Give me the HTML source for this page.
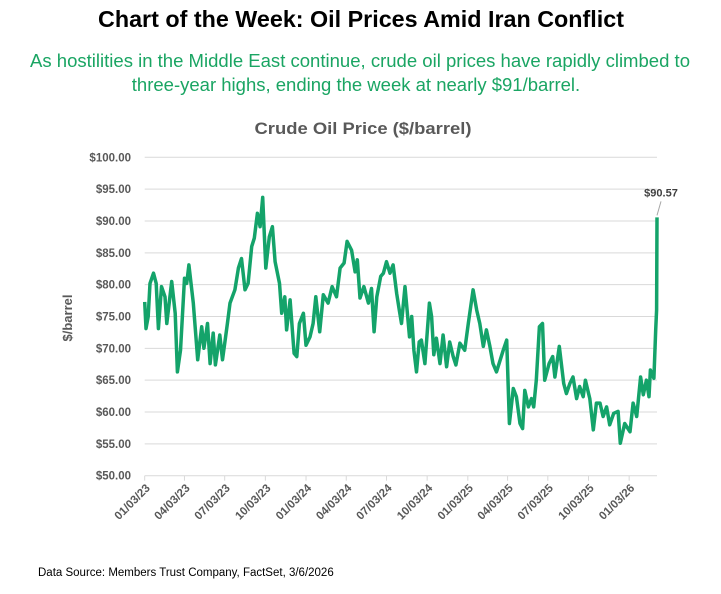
<!DOCTYPE html>
<html><head><meta charset="utf-8"><style>
body{margin:0;background:#fff;width:721px;height:594px;overflow:hidden;font-family:"Liberation Sans",sans-serif}
</style></head><body>
<svg width="721" height="594" style="position:absolute;left:0;top:0">
<text x="361" y="27" text-anchor="middle" font-size="23" font-weight="bold" fill="#000" textLength="526" lengthAdjust="spacingAndGlyphs">Chart of the Week: Oil Prices Amid Iran Conflict</text>
<text x="360" y="67" text-anchor="middle" font-size="18.5" fill="#1aa563" textLength="660" lengthAdjust="spacingAndGlyphs">As hostilities in the Middle East continue, crude oil prices have rapidly climbed to</text>
<text x="356" y="91" text-anchor="middle" font-size="18.5" fill="#1aa563">three-year highs, ending the week at nearly $91/barrel.</text>
<text x="363" y="134" text-anchor="middle" font-size="17" font-weight="bold" fill="#595959" textLength="217" lengthAdjust="spacingAndGlyphs">Crude Oil Price ($/barrel)</text>
<text transform="translate(72,318) rotate(-90)" text-anchor="middle" font-size="13" font-weight="bold" fill="#595959">$/barrel</text>
<text x="38" y="576" font-size="11.5" fill="#000">Data Source: Members Trust Company, FactSet, 3/6/2026</text>
<g id="grid"></g><g id="axes"></g><g id="series"></g>
</svg>
<script>
const yTicks=[50,55,60,65,70,75,80,85,90,95,100];
const xTickLabels=["01/03/23","04/03/23","07/03/23","10/03/23","01/03/24","04/03/24","07/03/24","10/03/24","01/03/25","04/03/25","07/03/25","10/03/25","01/03/26"];
const xTickDays=[0,90,181,273,365,456,547,639,731,821,912,1004,1096];
const days=[0,3,8,12,20,26,31,38,46,50,61,69,74,81,90,95,100,110,120,129,134,142,148,155,160,170,176,187,193,204,212,219,227,234,242,248,255,261,267,274,282,289,295,305,310,317,321,329,338,344,350,359,365,374,381,387,396,404,415,424,434,442,451,458,468,476,481,487,496,506,513,519,525,534,540,547,555,562,570,576,581,589,599,604,609,615,621,626,634,644,649,654,660,668,675,683,690,698,704,713,724,732,743,751,758,766,773,781,788,796,811,819,825,834,841,849,855,860,868,875,880,886,893,900,905,915,923,928,938,948,954,962,969,977,984,992,997,1007,1015,1022,1030,1037,1045,1052,1061,1071,1076,1086,1098,1105,1113,1122,1128,1135,1141,1144,1152,1156,1158,1159];
const prices=[77.3,73.1,75,80.2,81.8,80.2,73.1,79.7,78.1,73.9,80.5,75.5,66.3,69.7,81,80.2,83.1,77.1,68.2,73.4,70,73.9,67.6,72.4,67.4,72.1,68.2,73.9,77.1,79.2,82.6,84.1,79.2,80.2,86,87.3,91.2,89.1,93.7,82.6,87.5,89.1,83.6,80.2,75.5,78.1,72.9,77.6,69.2,68.7,73.9,75.5,70.5,71.8,73.9,78.1,72.6,78.4,77.1,79.7,78.1,82.6,83.4,86.8,85.4,82,83.9,77.9,79.7,77.1,79.4,72.6,78.1,81.3,81.8,83.6,81.8,83.1,78.6,76,73.9,79.7,71.8,75,69.7,66.3,71,71.3,67.6,77.1,75,69,71.6,67.6,72.1,67.1,71,68.7,67.4,70.8,69.7,73.9,79.2,76,73.9,70.3,72.9,70.3,67.6,66.3,69.7,71.3,58.2,63.7,62.4,58.2,57.4,63.4,60.8,62.1,60.8,65,73.4,73.9,65,67.6,68.7,65.5,70.3,64.5,62.9,64.5,65.5,62.1,64,62.4,65,62.1,57.2,61.4,61.4,59.3,60.8,58,59.8,60.1,55.1,58.2,56.9,61.4,59.3,65.5,62.7,65,62.4,66.6,65.3,72.9,76,90.57];
const lastLabel="$90.57";
const X0=144.7,X1=657,D1=1159,Y0=475.7,Y1=157.3;
const xs=d=>X0+(X1-X0)*d/D1, ys=v=>Y0-(Y0-Y1)*(v-50)/50;
const NS="http://www.w3.org/2000/svg";
function mk(t,a,p){const e=document.createElementNS(NS,t);for(const k in a)e.setAttribute(k,a[k]);p.appendChild(e);return e;}
const grid=document.getElementById('grid'),axes=document.getElementById('axes'),series=document.getElementById('series');
yTicks.forEach(v=>{
 const l=mk('line',{x1:X0,x2:X1,y1:ys(v),y2:ys(v),stroke:'#d9d9d9','stroke-width':1},grid);
 
 
 const t=mk('text',{x:131,y:ys(v)+4,'text-anchor':'end','font-size':11.5,'font-weight':'bold',fill:'#595959'},axes);
 t.textContent='$'+v.toFixed(2);
 
 
});
xTickDays.forEach((d,i)=>{
 const x=xs(d);
 const tk=mk('line',{x1:x,x2:x,y1:Y0,y2:Y0+5,stroke:'#d9d9d9'},axes);
 
 
 const t=mk('text',{transform:`translate(${x+6},${Y0+13}) rotate(-45)`,'text-anchor':'end','font-size':11.5,'font-weight':'bold',fill:'#595959'},axes);
 t.textContent=xTickLabels[i];
 
 
});
const pts=days.map((d,i)=>xs(d).toFixed(1)+','+ys(prices[i]).toFixed(1)).join(' ');
const pl=mk('polyline',{points:pts,fill:'none',stroke:'#14a36a','stroke-width':3.5,'stroke-linejoin':'round'},series);


const lx=xs(days[days.length-1]),ly=ys(prices[prices.length-1]);
const ll=mk('line',{x1:lx,y1:ly-2,x2:lx+4,y2:ly-16,stroke:'#a6a6a6'},series);


const lt=mk('text',{x:lx+4,y:ly-21,'text-anchor':'middle','font-size':11,'font-weight':'bold',fill:'#404040'},series);
lt.textContent=lastLabel;


</script>
</body></html>
